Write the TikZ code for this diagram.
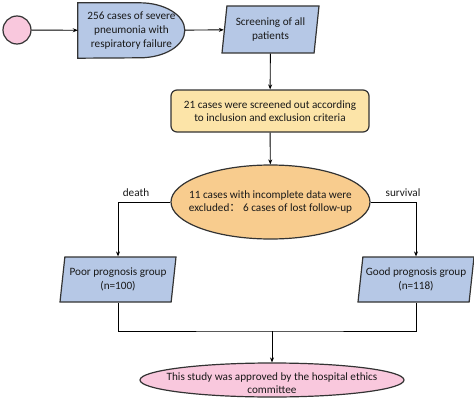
\documentclass[tikz,border=0pt]{standalone}
\usepackage{fontspec}
\setmainfont{Carlito}
\newfontfamily\cjk{Noto Sans CJK SC}
\usetikzlibrary{shapes.geometric,backgrounds,arrows.meta}
\definecolor{boxblue}{RGB}{182,200,230}
\definecolor{startpink}{RGB}{249,200,221}
\definecolor{ruleyellow}{RGB}{252,228,168}
\definecolor{exclorange}{RGB}{248,204,142}

\begin{document}
\begin{tikzpicture}[x=1pt,y=1pt,
	every node/.style={font=\fontsize{11.2}{13.6}\selectfont,text=black!90},
	shapeline/.style={draw=black!80,line width=1.2pt},
	para/.style={shapeline,trapezium,trapezium left angle=78,trapezium right angle=102,
		trapezium stretches body,fill=boxblue,minimum width=116,minimum height=45,
		align=center,inner sep=0pt},
	link/.style={-{Stealth[length=5pt,width=4pt]},line width=0.9pt}]
	\useasboundingbox (0,0) rectangle (474,400);
	
	%boxes
	\node[circle,shapeline,fill=startpink,minimum size=28,inner sep=0pt] (start) at (17,370) {};
	\node[minimum width=107,minimum height=55,align=center,inner sep=0pt] (cases) at (131.5,369.5) {256 cases of severe\\pneumonia with\\respiratory failure};
	\node[para,minimum width=97,minimum height=47] (screen) at (270.5,370.5) {Screening of all\\patients};
	\node[shapeline,rounded corners=6pt,fill=ruleyellow,minimum width=198,minimum height=42,align=center] (rules) at (270,289) {21 cases were screened out according\\to inclusion and exclusion criteria};
	\node[ellipse,shapeline,fill=exclorange,minimum width=199,minimum height=74] (excl) at (270.5,198) {};
	\node[align=center] (excltext) at (excl) {11 cases with incomplete data were\\excluded{\cjk ：} 6 cases of lost follow-up};
	\node[para] (poor) at (118,120.5) {Poor prognosis group\\(n=100)};
	\node[para] (good) at (416,120.5) {Good prognosis group\\(n=118)};
	\node[ellipse,shapeline,fill=startpink,minimum width=264,minimum height=34] (ethics) at (272,20) {};
	\node[align=center] (ethicstext) at (272,17) {This study was approved by the hospital ethics\\committee};
	\coordinate (join) at (272,69);
	
	%delay shape behind the first text
	\begin{scope}[on background layer]
		\filldraw[shapeline,fill=boxblue] (cases.north west) -- ++(62,0)
			arc[start angle=90,end angle=-90,x radius=45,y radius=27.5] -- (cases.south west) -- cycle;
	\end{scope}
	
	%branch labels
	\node (death) at (136,207) {death};
	\node (survival) at (403,207) {survival};
	
	%arrows
	\draw[link] (start) -- (cases);
	\draw[link] (cases) -- (screen);
	\draw[link] (screen) -- (rules);
	\draw[link] (rules) -- (excl);
	\draw[link] (excl.west) -| (poor.north);
	\draw[link] (excl.east) -| (good.north);
	\draw[line width=0.9pt] (poor.south) |- (join) -| (good.south);
	\draw[link] (join) -- (ethics.north);
\end{tikzpicture}
\end{document}
